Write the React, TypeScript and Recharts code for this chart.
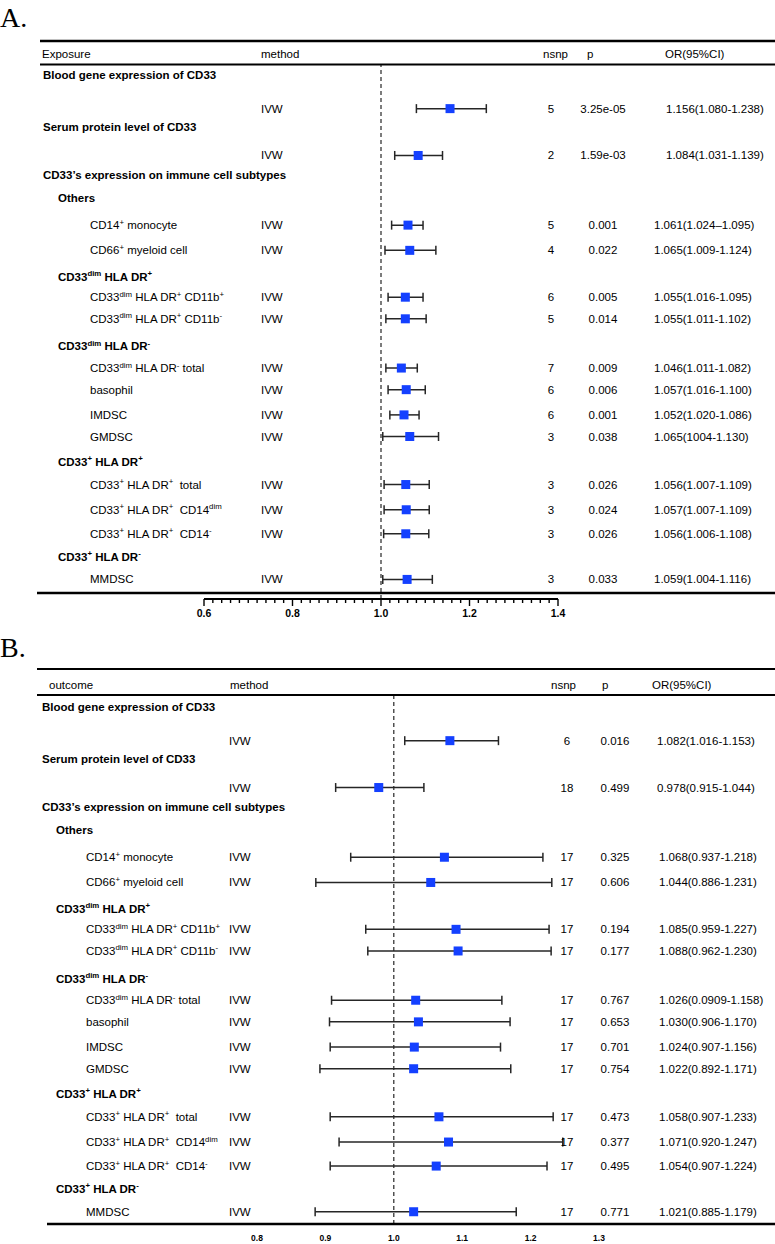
import React from 'react';
import { ScatterChart, Scatter, XAxis, YAxis, ErrorBar, ReferenceLine } from 'recharts';

const FONT = '"Liberation Sans", Arial, Helvetica, sans-serif';
const SERIF = '"Liberation Serif", "Times New Roman", serif';

// ---- table structure (shared by both panels) ----
const ROW_POS = [0, 1.4, 2.15, 3.35, 4.15, 5.1, 6.25, 7.3, 8.4, 9.25, 10.15, 11.3, 12.2, 13.1, 14.15, 15.05, 16.1, 17.05, 18.1, 19.1, 20.05, 21.0];
const ROW_TYPE = ['g0', 'est', 'g0', 'est', 'g0', 'g1', 'item', 'item', 'g1', 'item', 'item', 'g1', 'item', 'item', 'item', 'item', 'g1', 'item', 'item', 'item', 'g1', 'item'];
const ROW_LABEL = [
  'Blood gene expression of CD33',
  '',
  'Serum protein level of CD33',
  '',
  'CD33\u2019s expression on immune cell subtypes',
  'Others',
  'CD14^{+} monocyte',
  'CD66^{+} myeloid cell',
  'CD33^{dim} HLA DR^{+}',
  'CD33^{dim} HLA DR^{+} CD11b^{+}',
  'CD33^{dim} HLA DR^{+} CD11b^{-}',
  'CD33^{dim} HLA DR^{-}',
  'CD33^{dim} HLA DR^{-} total',
  'basophil',
  'IMDSC',
  'GMDSC',
  'CD33^{+} HLA DR^{+}',
  'CD33^{+} HLA DR^{+}  total',
  'CD33^{+} HLA DR^{+}  CD14^{dim}',
  'CD33^{+} HLA DR^{+}  CD14^{-}',
  'CD33^{+} HLA DR^{-}',
  'MMDSC',
];
const METHOD = 'IVW';
const HEADERS_A = ['Exposure', 'method', 'nsnp', 'p', 'OR(95%CI)'];
const HEADERS_B = ['outcome', 'method', 'nsnp', 'p', 'OR(95%CI)'];

// ---- panel A values ----
const PT_A = [1.156, 1.084, 1.061, 1.065, 1.055, 1.055, 1.046, 1.057, 1.052, 1.065, 1.056, 1.057, 1.056, 1.059];
const LO_A = [1.080, 1.031, 1.024, 1.009, 1.016, 1.011, 1.011, 1.016, 1.020, 1.004, 1.007, 1.007, 1.006, 1.004];
const HI_A = [1.238, 1.139, 1.095, 1.124, 1.095, 1.102, 1.082, 1.100, 1.086, 1.130, 1.109, 1.109, 1.108, 1.116];
const NSNP_A = [5, 2, 5, 4, 6, 5, 7, 6, 6, 3, 3, 3, 3, 3];
const P_A = ['3.25e-05', '1.59e-03', '0.001', '0.022', '0.005', '0.014', '0.009', '0.006', '0.001', '0.038', '0.026', '0.024', '0.026', '0.033'];
const ORTXT_A = ['1.156(1.080-1.238)', '1.084(1.031-1.139)', '1.061(1.024\u20131.095)', '1.065(1.009-1.124)', '1.055(1.016-1.095)', '1.055(1.011-1.102)', '1.046(1.011-1.082)', '1.057(1.016-1.100)', '1.052(1.020-1.086)', '1.065(1004-1.130)', '1.056(1.007-1.109)', '1.057(1.007-1.109)', '1.056(1.006-1.108)', '1.059(1.004-1.116)'];
const AXIS_A_MAJOR = [0.6, 0.8, 1.0, 1.2, 1.4];

// ---- panel B values ----
const PT_B = [1.082, 0.978, 1.074, 1.054, 1.091, 1.094, 1.032, 1.036, 1.030, 1.029, 1.066, 1.080, 1.062, 1.029];
const LO_B = [1.016, 0.915, 0.937, 0.886, 0.959, 0.962, 0.909, 0.906, 0.907, 0.892, 0.907, 0.920, 0.907, 0.885];
const HI_B = [1.153, 1.044, 1.218, 1.231, 1.227, 1.230, 1.158, 1.170, 1.156, 1.171, 1.233, 1.247, 1.224, 1.179];
const NSNP_B = [6, 18, 17, 17, 17, 17, 17, 17, 17, 17, 17, 17, 17, 17];
const P_B = ['0.016', '0.499', '0.325', '0.606', '0.194', '0.177', '0.767', '0.653', '0.701', '0.754', '0.473', '0.377', '0.495', '0.771'];
const ORTXT_B = ['1.082(1.016-1.153)', '0.978(0.915-1.044)', '1.068(0.937-1.218)', '1.044(0.886-1.231)', '1.085(0.959-1.227)', '1.088(0.962-1.230)', '1.026(0.0909-1.158)', '1.030(0.906-1.170)', '1.024(0.907-1.156)', '1.022(0.892-1.171)', '1.058(0.907-1.233)', '1.071(0.920-1.247)', '1.054(0.907-1.224)', '1.021(0.885-1.179)'];
const AXIS_B_TICKS = [0.8, 0.9, 1.0, 1.1, 1.2, 1.3];

const EST_ROWS = ROW_TYPE.map((t, i) => (t === 'est' || t === 'item' ? i : -1)).filter((i) => i >= 0);

const FS = 11.5;
const MARK = '#1440ff';
const LINE = '#262626';

function renderLabel(s: string) {
  const parts = s.split(/(\^\{[^}]*\})/).filter((p) => p.length);
  let shifted = false;
  return parts.map((p, i) => {
    const m = p.match(/^\^\{([^}]*)\}$/);
    if (m) {
      const el = (
        <tspan key={i} dy={shifted ? 0 : -4.5} fontSize={FS * 0.68}>
          {m[1]}
        </tspan>
      );
      shifted = true;
      return el;
    }
    const el = (
      <tspan key={i} dy={shifted ? 4.5 : 0} fontSize={FS}>
        {p}
      </tspan>
    );
    shifted = false;
    return el;
  });
}

type Panel = {
  top: number;
  height: number;
  margin: { top: number; right: number; bottom: number; left: number };
  xDomain: [number, number];
  yDomain: [number, number];
  xAxisHeight: number;
  cols: { g0: number; g1: number; item: number; method: number; nsnp: number; p: number; orEst: number; orItem: number };
  pt: number[];
  lo: number[];
  hi: number[];
  nsnp: number[];
  p: string[];
  ortxt: string[];
};

const PANEL_A: Panel = {
  top: 0,
  height: 630,
  margin: { top: 64, right: 217, bottom: 5, left: 204 },
  xDomain: [0.6, 1.4],
  yDomain: [-0.458, 21.815],
  xAxisHeight: 26,
  cols: { g0: 43, g1: 58, item: 90, method: 261, nsnp: 551, p: 603, orEst: 666, orItem: 654 },
  pt: PT_A, lo: LO_A, hi: HI_A, nsnp: NSNP_A, p: P_A, ortxt: ORTXT_A,
};

const PANEL_B: Panel = {
  top: 630,
  height: 614,
  margin: { top: 65, right: 176, bottom: 0, left: 257 },
  xDomain: [0.8, 1.3],
  yDomain: [-0.5, 21.51],
  xAxisHeight: 20,
  cols: { g0: 42, g1: 56, item: 86, method: 229, nsnp: 567, p: 615, orEst: 657, orItem: 659 },
  pt: PT_B, lo: LO_B, hi: HI_B, nsnp: NSNP_B, p: P_B, ortxt: ORTXT_B,
};

const PRE = { whiteSpace: 'pre' as const };

const makeRowShape = (pn: Panel) => (props: any) => {
  const { cy, payload } = props;
  if (cy == null || !payload) return <g />;
  const i = payload.row;
  const t = ROW_TYPE[i];
  const by = cy + 4;
  const c = pn.cols;
  if (t === 'g0' || t === 'g1') {
    return (
      <text x={t === 'g0' ? c.g0 : c.g1} y={by} fontFamily={FONT} fontSize={FS} fontWeight="bold" fill="#000" style={PRE}>
        {renderLabel(ROW_LABEL[i])}
      </text>
    );
  }
  const k = EST_ROWS.indexOf(i);
  return (
    <g fill="#000">
      {t === 'item' && (
        <text x={c.item} y={by} fontFamily={FONT} fontSize={FS} fill="#000" style={PRE}>
          {renderLabel(ROW_LABEL[i])}
        </text>
      )}
      <text x={c.method} y={by} fontFamily={FONT} fontSize={FS}>{METHOD}</text>
      <text x={c.nsnp} y={by} textAnchor="middle" fontFamily={FONT} fontSize={FS}>{pn.nsnp[k]}</text>
      <text x={c.p} y={by} textAnchor="middle" fontFamily={FONT} fontSize={FS}>{pn.p[k]}</text>
      <text x={t === 'est' ? c.orEst : c.orItem} y={by} fontFamily={FONT} fontSize={FS}>{pn.ortxt[k]}</text>
    </g>
  );
};

const AxisTickA = (props: any) => {
  const { x, y, payload } = props;
  const v = payload.value;
  const major = AXIS_A_MAJOR.some((m) => Math.abs(m - v) < 1e-6);
  return (
    <g>
      <line x1={x} x2={x} y1={y} y2={y + (major ? 7 : 4)} stroke="#000" strokeWidth={1.4} />
      {major && (
        <text x={x} y={y + 18} textAnchor="middle" fontWeight="bold" fontSize={10.5} fontFamily={FONT} fill="#000">
          {v.toFixed(1)}
        </text>
      )}
    </g>
  );
};

const AxisTickB = (props: any) => {
  const { x, y, payload } = props;
  return (
    <text x={x} y={y + 16.5} textAnchor="middle" fontWeight="bold" fontSize={8.5} fontFamily={FONT} fill="#000">
      {Number(payload.value).toFixed(1)}
    </text>
  );
};

const MINOR_A: number[] = [];
for (let v = 60; v <= 140; v += 2) MINOR_A.push(v / 100);

const Square = (props: any) => {
  const { cx, cy } = props;
  if (cx == null || cy == null) return <g />;
  return <rect x={cx - 4.5} y={cy - 4.5} width={9} height={9} fill={MARK} />;
};

function ForestPanel({ pn, isA }: { pn: Panel; isA: boolean }) {
  const data = EST_ROWS.map((r, k) => ({
    x: pn.pt[k],
    y: ROW_POS[r],
    err: [pn.pt[k] - pn.lo[k], pn.hi[k] - pn.pt[k]],
  }));
  const rows = ROW_POS.map((y, i) => ({ x: 1, y, row: i }));
  return (
    <div style={{ position: 'absolute', left: 0, top: pn.top }}>
      <ScatterChart width={775} height={pn.height} margin={pn.margin}>
        <XAxis
          type="number"
          dataKey="x"
          domain={pn.xDomain}
          ticks={isA ? MINOR_A : AXIS_B_TICKS}
          interval={0}
          height={pn.xAxisHeight}
          tickLine={false}
          tickSize={0}
          tickMargin={0}
          axisLine={isA ? { stroke: '#000', strokeWidth: 2 } : false}
          tick={isA ? <AxisTickA /> : <AxisTickB />}
        />
        <YAxis type="number" dataKey="y" domain={pn.yDomain} reversed width={0} hide />
        <ReferenceLine x={1} stroke={LINE} strokeDasharray="4 3" strokeWidth={1.2} ifOverflow="visible" />
        <Scatter data={rows} shape={makeRowShape(pn)} isAnimationActive={false} />
        <Scatter data={data} shape={<Square />} isAnimationActive={false}>
          <ErrorBar dataKey="err" direction="x" width={4.5} stroke={LINE} strokeWidth={1.5} />
        </Scatter>
      </ScatterChart>
    </div>
  );
}

function Overlay() {
  const hx = (v: string[], xs: number[], y: number) =>
    v.map((s, i) => (
      <text key={s} x={xs[i]} y={y} fontFamily={FONT} fontSize={FS} fill="#000">
        {s}
      </text>
    ));
  return (
    <svg width={775} height={1244} style={{ position: 'absolute', left: 0, top: 0, pointerEvents: 'none' }}>
      <text x={0} y={27} fontFamily={SERIF} fontSize={28} fill="#000">A.</text>
      <line x1={40} x2={775} y1={41} y2={41} stroke="#000" strokeWidth={2.5} />
      {hx(HEADERS_A, [42, 261, 543, 587, 665], 58)}
      <line x1={40} x2={775} y1={64.5} y2={64.5} stroke="#000" strokeWidth={2} />
      <line x1={37} x2={775} y1={593} y2={593} stroke="#000" strokeWidth={2.5} />

      <text x={0} y={657} fontFamily={SERIF} fontSize={28} fill="#000">B.</text>
      <line x1={37} x2={775} y1={669} y2={669} stroke="#000" strokeWidth={2} />
      {hx(HEADERS_B, [49, 230, 551, 602, 652], 689)}
      <line x1={37} x2={775} y1={695} y2={695} stroke="#000" strokeWidth={2} />
      <line x1={47} x2={775} y1={1224} y2={1224} stroke="#000" strokeWidth={2.5} />
    </svg>
  );
}

export default function App() {
  return (
    <div style={{ position: 'absolute', left: 0, top: 0, width: 775, height: 1244, background: '#fff', overflow: 'hidden' }}>
      <ForestPanel pn={PANEL_A} isA={true} />
      <ForestPanel pn={PANEL_B} isA={false} />
      <Overlay />
    </div>
  );
}
